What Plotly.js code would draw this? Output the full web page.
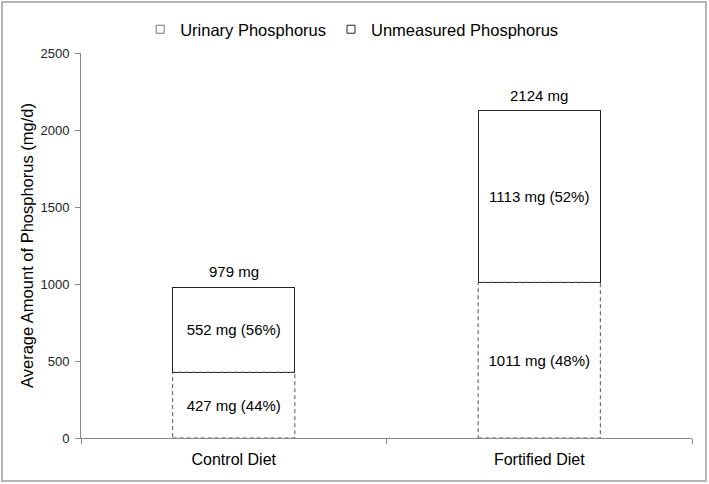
<!DOCTYPE html>
<html>
<head>
<meta charset="utf-8">
<script src="https://cdn.plot.ly/plotly-3.0.1.min.js"></script>
<style>
  html, body { margin: 0; padding: 0; background: #fff; }
  #wrap { position: relative; width: 709px; height: 484px; }
  #chart { width: 709px; height: 484px; }
  #frame { position: absolute; left: 1px; top: 1px; width: 706px; height: 481px;
           border: 2px solid #b5b5b5; box-sizing: border-box; pointer-events: none; }
</style>
</head>
<body>
<div id="wrap"><div id="chart"></div><div id="frame"></div></div>
<script>
const categories = ["Control Diet", "Fortified Diet"];
const urinary = [427, 1011];
const unmeasured = [552, 1113];
const seriesNames = ["Urinary Phosphorus", "Unmeasured Phosphorus"];
const yTicks = [0, 500, 1000, 1500, 2000, 2500];

const totals = categories.map((c, i) => urinary[i] + unmeasured[i]);
const pct = (v, t) => Math.round(100 * v / t);
const urinaryText = urinary.map((v, i) => `${v} mg (${pct(v, totals[i])}%)`);
const unmeasuredText = unmeasured.map((v, i) => `${v} mg (${pct(v, totals[i])}%)`);

const FONT = "Arial, 'Liberation Sans', sans-serif";
const BARW = 0.4;

const traces = [
  {
    type: "bar", x: categories, y: urinary, name: seriesNames[0], showlegend: false,
    marker: { color: "rgba(255,255,255,0)", line: { width: 0 } },
    text: urinaryText, textposition: "inside", insidetextanchor: "middle",
    constraintext: "none", textfont: { family: FONT, size: 15, color: "#000" },
    hoverinfo: "skip"
  },
  {
    type: "bar", x: categories, y: unmeasured, name: seriesNames[1], showlegend: false,
    marker: { color: "#ffffff", line: { width: 1, color: "#222" } },
    text: unmeasuredText, textposition: "inside", insidetextanchor: "middle",
    constraintext: "none", textfont: { family: FONT, size: 15, color: "#000" },
    hoverinfo: "skip"
  },
  {
    type: "scatter", mode: "markers", x: [null], y: [null], name: seriesNames[0],
    marker: { symbol: "square-open", size: 8, color: "#777", line: { width: 1 } }
  },
  {
    type: "scatter", mode: "markers", x: [null], y: [null], name: seriesNames[1],
    marker: { symbol: "square-open", size: 8, color: "#222", line: { width: 1 } }
  }
];

const shapes = categories.map((c, i) => ({
  type: "rect", xref: "x", yref: "y",
  x0: i - BARW / 2, x1: i + BARW / 2, y0: 0, y1: urinary[i],
  line: { color: "#555", width: 1, dash: "4px,3px" },
  fillcolor: "rgba(0,0,0,0)", layer: "above"
}));

const annotations = categories.map((c, i) => ({
  x: c, y: totals[i], xref: "x", yref: "y", text: `${totals[i]} mg`,
  showarrow: false, yanchor: "bottom", yshift: 5,
  font: { family: FONT, size: 15, color: "#000" }
}));

const layout = {
  width: 709, height: 484,
  margin: { l: 81, r: 17, t: 46, b: 46 },
  paper_bgcolor: "#fff", plot_bgcolor: "#fff",
  font: { family: FONT, color: "#000" },
  barmode: "stack", bargap: 1 - BARW,
  showlegend: true,
  legend: {
    orientation: "h", traceorder: "normal",
    x: 0.443, xanchor: "center", y: 1.061, yanchor: "middle",
    font: { family: FONT, size: 16.5, color: "#000" }, bgcolor: "rgba(0,0,0,0)"
  },
  xaxis: {
    type: "category", tickson: "boundaries", ticks: "outside", ticklen: 5,
    tickcolor: "#888", showline: true, linecolor: "#888", linewidth: 1,
    showgrid: false, zeroline: false, fixedrange: true,
    tickfont: { family: FONT, size: 16, color: "#000" }, ticklabelstandoff: 7
  },
  yaxis: {
    range: [0, 2500], tickvals: yTicks, ticks: "outside", ticklen: 5,
    tickcolor: "#888", showline: true, linecolor: "#888", linewidth: 1,
    showgrid: false, zeroline: false, fixedrange: true,
    tickfont: { family: FONT, size: 13, color: "#222" }, ticklabelstandoff: 3,
    title: { text: "Average Amount of Phosphorus (mg/d)", standoff: 2,
             font: { family: FONT, size: 16.5, color: "#000" } }
  },
  shapes: shapes,
  annotations: annotations
};

Plotly.newPlot("chart", traces, layout, { displayModeBar: false, staticPlot: true });
</script>
</body>
</html>
